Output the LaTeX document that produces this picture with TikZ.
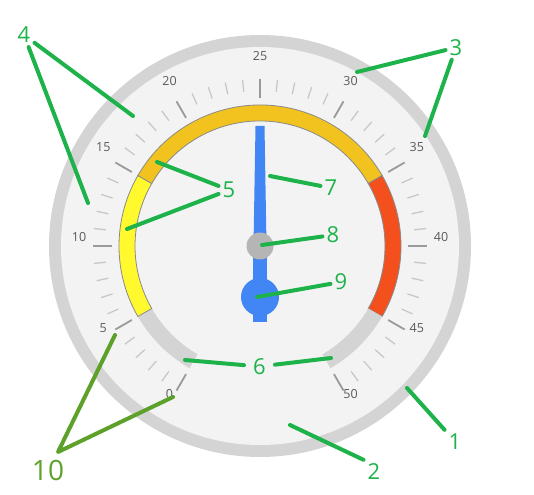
\documentclass[tikz,border=0pt]{standalone}
\usepackage{fontspec}
\setmainfont{Open Sans}
\usepackage{tikz}
\usetikzlibrary{arrows.meta, positioning, calc}
\usepackage{xcolor}
\definecolor{ringgray}{HTML}{D4D4D4}
\definecolor{facegray}{HTML}{F3F3F3}
\definecolor{bandyellow}{HTML}{FFF92E}
\definecolor{bandorange}{HTML}{F2C31E}
\definecolor{bandred}{HTML}{F4501E}
\definecolor{bandedge}{HTML}{8A8A8A}
\definecolor{needleblue}{HTML}{4285F4}
\definecolor{capgray}{HTML}{B5B5B5}
\definecolor{tickdark}{HTML}{9A9A9A}
\definecolor{ticklight}{HTML}{C8C8C8}
\definecolor{numgray}{HTML}{5A5A5A}
\definecolor{notegreen}{HTML}{1DB34A}
\definecolor{noteolive}{HTML}{5DA12A}

\tikzset{
  majortick/.style={tickdark, line width=1.8pt},
  minortick/.style={ticklight, line width=1.3pt},
  dialnum/.style={font=\fontsize{12.5}{14}\selectfont, text=numgray, inner sep=0pt},
  callout/.style={font=\fontsize{22}{24}\selectfont, text=notegreen, inner sep=4pt},
  leader/.style={notegreen, line width=4pt, line cap=round}
}

\begin{document}
\begin{tikzpicture}[x=1pt, y=1pt, >=Stealth]
  \useasboundingbox (0,0) rectangle (534,494);
  \coordinate (C) at (260,248);
  \fill[ringgray] (C) circle[radius=211];
  \fill[facegray] (C) circle[radius=199];
  \foreach \a/\b/\col/\edge in {240/210/ringgray/none, 210/150/bandyellow/bandedge,
      150/30/bandorange/bandedge, 30/-30/bandred/bandedge, -30/-60/ringgray/none}{
    \filldraw[fill=\col, draw=\edge, line width=0.8pt]
      ($(C)+(\a:141)$) arc[start angle=\a, end angle=\b, radius=141]
      -- ($(C)+(\b:125)$) arc[start angle=\b, end angle=\a, radius=125] -- cycle;
  }
  \foreach \v in {0,...,50}{
    \pgfmathsetmacro\ang{240-6*\v}
    \pgfmathtruncatemacro\m{mod(\v,5)}
    \ifnum\m=0
      \draw[majortick] ($(C)+(\ang:148)$) -- ($(C)+(\ang:167)$);
    \else
      \draw[minortick] ($(C)+(\ang:155)$) -- ($(C)+(\ang:167)$);
    \fi
  }
  \foreach \v in {0,5,...,50}{
    \pgfmathsetmacro\ang{240-6*\v}
    \node[dialnum] (d\v) at ($(C)+(0,8.5)+(\ang:181)$) {\v};
  }
  \fill[needleblue] (255.5,368) -- (264.5,368) -- (266.5,248) -- (253.5,248) -- cycle;
  \fill[needleblue] (253.3,248) rectangle (266.7,172);
  \fill[needleblue] (260,197) circle[radius=19];
  \fill[capgray] (C) circle[radius=13.5];

  \coordinate (t1) at (407,106);
  \coordinate (t2) at (290,69);
  \coordinate (t3a) at (357,422);
  \coordinate (t3b) at (425,358);
  \coordinate (t4a) at (133,378);
  \coordinate (t4b) at (88,291);
  \coordinate (t5a) at (157,332);
  \coordinate (t5b) at (127,265);
  \coordinate (t6a) at (185,134);
  \coordinate (t6b) at (331,136);
  \coordinate (t7) at (270,318);
  \coordinate (t8) at (262,249);
  \coordinate (t9) at (257,197);
  \coordinate (t10a) at (115,159);
  \coordinate (t10b) at (173,97);
  \coordinate (v10) at (58,42);

  \node[callout] (n1) at (455,52.5) {1};
  \node[callout] (n2) at (374,22) {2};
  \node[callout] (n3) at (456,446.5) {3};
  \node[callout] (n4) at (24,459) {4};
  \node[callout] (n5) at (229,304) {5};
  \node[callout, inner xsep=9pt] (n6) at (259.5,127.5) {6};
  \node[callout] (n7) at (331,306) {7};
  \node[callout] (n8) at (333,259) {8};
  \node[callout] (n9) at (341,212) {9};
  \node[callout, font=\fontsize{28}{30}\selectfont, text=noteolive] (n10) at (48,24) {10};

  \draw[leader] (n1) -- (t1);
  \draw[leader] (n2.north west) -- (t2);
  \draw[leader] (n3) -- (t3a);
  \draw[leader] (n3) -- (t3b);
  \draw[leader] (n4) -- (t4a);
  \draw[leader] (n4) -- (t4b);
  \draw[leader] (n5) -- (t5a);
  \draw[leader] (n5) -- (t5b);
  \draw[leader] (n6) -- (t6a);
  \draw[leader] (n6) -- (t6b);
  \draw[leader] (n7) -- (t7);
  \draw[leader] (n8) -- (t8);
  \draw[leader] (n9) -- (t9);
  \draw[leader, noteolive, line join=round] (t10a) -- (v10) -- (t10b);
\end{tikzpicture}
\end{document}
